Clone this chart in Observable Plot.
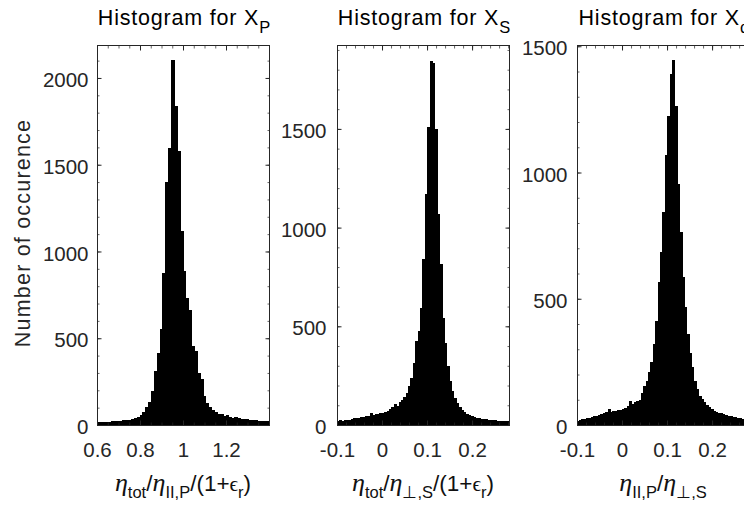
<!DOCTYPE html>
<html><head><meta charset="utf-8">
<script src="https://cdn.jsdelivr.net/npm/d3@7"></script>
<script src="https://cdn.jsdelivr.net/npm/@observablehq/plot@0.6"></script>
<style>
body{margin:0;background:#fff;}
#fig{position:relative;width:744px;height:506px;overflow:hidden;background:#fff;font-family:"Liberation Sans",Arial,Helvetica,sans-serif;}
</style></head><body><div id="fig"></div>
<script>
// ---------- data ----------
// Panel 1: X_P histogram, 60 bins over [0.6, 1.4]
const p1BinStart = 0.6;
const p1BinWidth = 0.8 / 60;
const p1Counts = [14, 15, 16, 16, 17, 18, 19, 20, 22, 24, 26, 28, 30, 35, 42, 52, 70, 98, 130,
  192, 308, 410, 553, 873, 1400, 1594, 2100, 1836, 1576, 1117, 886, 728, 659, 453, 424, 299, 260, 164,
  125, 100, 85, 72, 62, 58, 50, 55, 45, 40, 42, 36, 34, 30, 30, 27, 26, 24, 22, 22, 20, 18];
// Panel 2: X_S histogram
const p2BinStart = -0.1;
const p2BinWidth = 0.0053;
const p2Counts = [20, 22, 20, 24, 23, 25, 28, 32, 35, 34, 40, 38, 45, 42, 58, 48, 55, 52, 60, 58, 65, 70, 80, 90, 105, 95, 115, 125, 140,
  160, 194, 237, 313, 423, 474, 592, 837, 1170, 1505, 1840, 1830, 1495, 1066, 812, 541, 414, 296, 220, 169,
  135, 110, 90, 75, 65, 55, 50, 42, 38, 35, 32, 30, 28, 27, 25, 24, 22, 22, 20, 20, 18, 18, 17];
// Panel 3: X_alpha histogram
const p3BinStart = -0.1;
const p3BinWidth = 0.0053;
const p3Counts = [15, 18, 20, 22, 24, 26, 30, 33, 35, 38, 40, 44, 50, 60, 48, 52, 55, 58, 56, 60, 65, 75, 95, 80, 88,
  92, 99,
  126, 152, 172, 206, 246, 318, 410, 564, 683, 842, 1068, 1223, 1389, 1443, 1260, 952, 763, 584, 464, 358, 285, 226, 172, 139, 113,
  100, 88, 78, 68, 60, 55, 50, 46, 44, 40, 38, 35, 32, 30, 28, 25, 24, 22, 20, 19];

// tick labels
const p1XTicks = [0.6, 0.8, 1, 1.2];
const p2XTicks = [-0.1, 0, 0.1, 0.2];
const p3XTicks = [-0.1, 0, 0.1, 0.2];
const p1YTicks = [0, 500, 1000, 1500, 2000];
const p2YTicks = [0, 500, 1000, 1500];
const p3YTicks = [0, 500, 1000, 1500];
const p1XMinor = d3.range(0.6, 1.41, 0.05);
const p23XMinor = d3.range(-0.1, 0.29, 0.02);
const yMinor = d3.range(0, 2200, 100);

const titles = ["P", "S", "α"];
const yLabel = "Number of occurence";

// ---------- layout ----------
const fig = document.getElementById("fig");
const PW = 172;           // plot area width
const serif = "'Liberation Serif','DejaVu Serif',serif";

function toBins(start, w, counts) {
  return counts.map((c, i) => ({x1: start + i * w, x2: start + (i + 1) * w, y: c}));
}

const panels = [
  {left: 97, mL: 97, xDomain: [0.6, 1.4], yDomain: [0, 2190], xTicks: p1XTicks, xMinor: p1XMinor, yTicks: p1YTicks,
   data: toBins(p1BinStart, p1BinWidth, p1Counts), sub: titles[0], ytp: 9,
   xlabel: [["η", "m"], ["tot", "s"], ["/", "n"], ["η", "m"], ["II,P", "s"], ["/(1+", "n"], ["ϵ", "e"], ["r", "s"], [")", "n"]]},
  {left: 337, mL: 60, xDomain: [-0.1, 0.282], yDomain: [0, 1925], xTicks: p2XTicks, xMinor: p23XMinor, yTicks: p2YTicks,
   data: toBins(p2BinStart, p2BinWidth, p2Counts), sub: titles[1], ytp: 11,
   xlabel: [["η", "m"], ["tot", "s"], ["/", "n"], ["η", "m"], ["⊥,S", "s"], ["/(1+", "n"], ["ϵ", "e"], ["r", "s"], [")", "n"]]},
  {left: 577, mL: 60, xDomain: [-0.1, 0.282], yDomain: [0, 1505], xTicks: p3XTicks, xMinor: p23XMinor, yTicks: p3YTicks,
   data: toBins(p3BinStart, p3BinWidth, p3Counts), sub: titles[2], ytp: 10,
   xlabel: [["η", "m"], ["II,P", "s"], ["/", "n"], ["η", "m"], ["⊥,S", "s"]]}
];

const ink = "#262626";
panels.forEach((p, idx) => {
  const mR = 8;
  const W = p.mL + PW + mR;
  const yMin = yMinor.filter(v => v <= p.yDomain[1]);
  const xMin = p.xMinor.filter(v => v >= p.xDomain[0] - 1e-9 && v <= p.xDomain[1] + 1e-9);
  const blank = () => "";
  const plot = Plot.plot({
    width: W, height: 506,
    marginLeft: p.mL, marginRight: mR, marginTop: 45, marginBottom: 81,
    style: {background: "transparent", overflow: "visible", maxWidth: "none", fontFamily: "'Liberation Sans',Arial,sans-serif", color: ink},
    x: {domain: p.xDomain},
    y: {domain: p.yDomain},
    marks: [
      Plot.rectY(p.data, {x1: "x1", x2: "x2", y: "y", fill: "black", stroke: "black", strokeWidth: 1, shapeRendering: "crispEdges", clip: true}),
      Plot.axisX(p.xTicks, {tickSize: 0, tickPadding: 16.5, fontSize: 20.5, label: null, tickFormat: d => String(d), fill: ink}),
      Plot.axisX(p.xTicks, {tickSize: -4.5, tickFormat: blank, label: null, stroke: ink}),
      Plot.axisX(p.xTicks, {anchor: "top", tickSize: -4.5, tickFormat: blank, label: null, stroke: ink}),
      Plot.axisX(xMin, {tickSize: -2.5, tickFormat: blank, label: null, stroke: ink, strokeOpacity: 0.7}),
      Plot.axisX(xMin, {anchor: "top", tickSize: -2.5, tickFormat: blank, label: null, stroke: ink, strokeOpacity: 0.7}),
      Plot.axisY(p.yTicks, {tickSize: 0, tickPadding: p.ytp, fontSize: 20.5, label: null, tickFormat: d => String(d), dy: 2, fill: ink}),
      Plot.axisY(p.yTicks, {tickSize: -4.5, tickFormat: blank, label: null, stroke: ink}),
      Plot.axisY(p.yTicks, {anchor: "right", tickSize: -4.5, tickFormat: blank, label: null, stroke: ink}),
      Plot.axisY(yMin, {tickSize: -2.5, tickFormat: blank, label: null, stroke: ink, strokeOpacity: 0.7}),
      Plot.axisY(yMin, {anchor: "right", tickSize: -2.5, tickFormat: blank, label: null, stroke: ink, strokeOpacity: 0.7}),
      Plot.frame({stroke: ink, strokeWidth: 1})
    ]
  });
  plot.style.position = "absolute";
  plot.style.top = "0px";
  plot.style.left = (p.left - p.mL) + "px";
  fig.appendChild(plot);

  const svg = d3.select(plot);
  const cx = p.mL + PW / 2;
  // title
  const t = svg.append("text").attr("x", cx + 1).attr("y", 25).attr("text-anchor", "middle")
    .attr("font-size", 21.5).attr("letter-spacing", "0.8px").attr("fill", "#000");
  t.append("tspan").text("Histogram for X");
  t.append("tspan").attr("dy", 8).attr("font-size", 16.5).attr("letter-spacing", "0px").text(p.sub);
  // x label
  const xl = svg.append("text").attr("x", cx).attr("y", 491).attr("text-anchor", "middle")
    .attr("font-size", 22.5).attr("fill", "#111");
  let shifted = false;
  p.xlabel.forEach(([s, kind]) => {
    const ts = xl.append("tspan").text(s);
    if (kind === "s") {
      ts.attr("font-size", 16.5).attr("dy", shifted ? 0 : 7);
      shifted = true;
    } else {
      if (shifted) { ts.attr("dy", -7); shifted = false; }
      if (kind === "m") ts.attr("font-family", serif).attr("font-style", "italic").attr("font-size", 26);
      if (kind === "e") ts.attr("font-family", serif).attr("font-size", 21);
    }
  });
  // y label
  if (idx === 0) {
    svg.append("text").attr("transform", "translate(30,233) rotate(-90)").attr("text-anchor", "middle")
      .attr("font-size", 21.5).attr("letter-spacing", "1.2px").attr("fill", ink).text(yLabel);
  }
});
</script></body></html>
